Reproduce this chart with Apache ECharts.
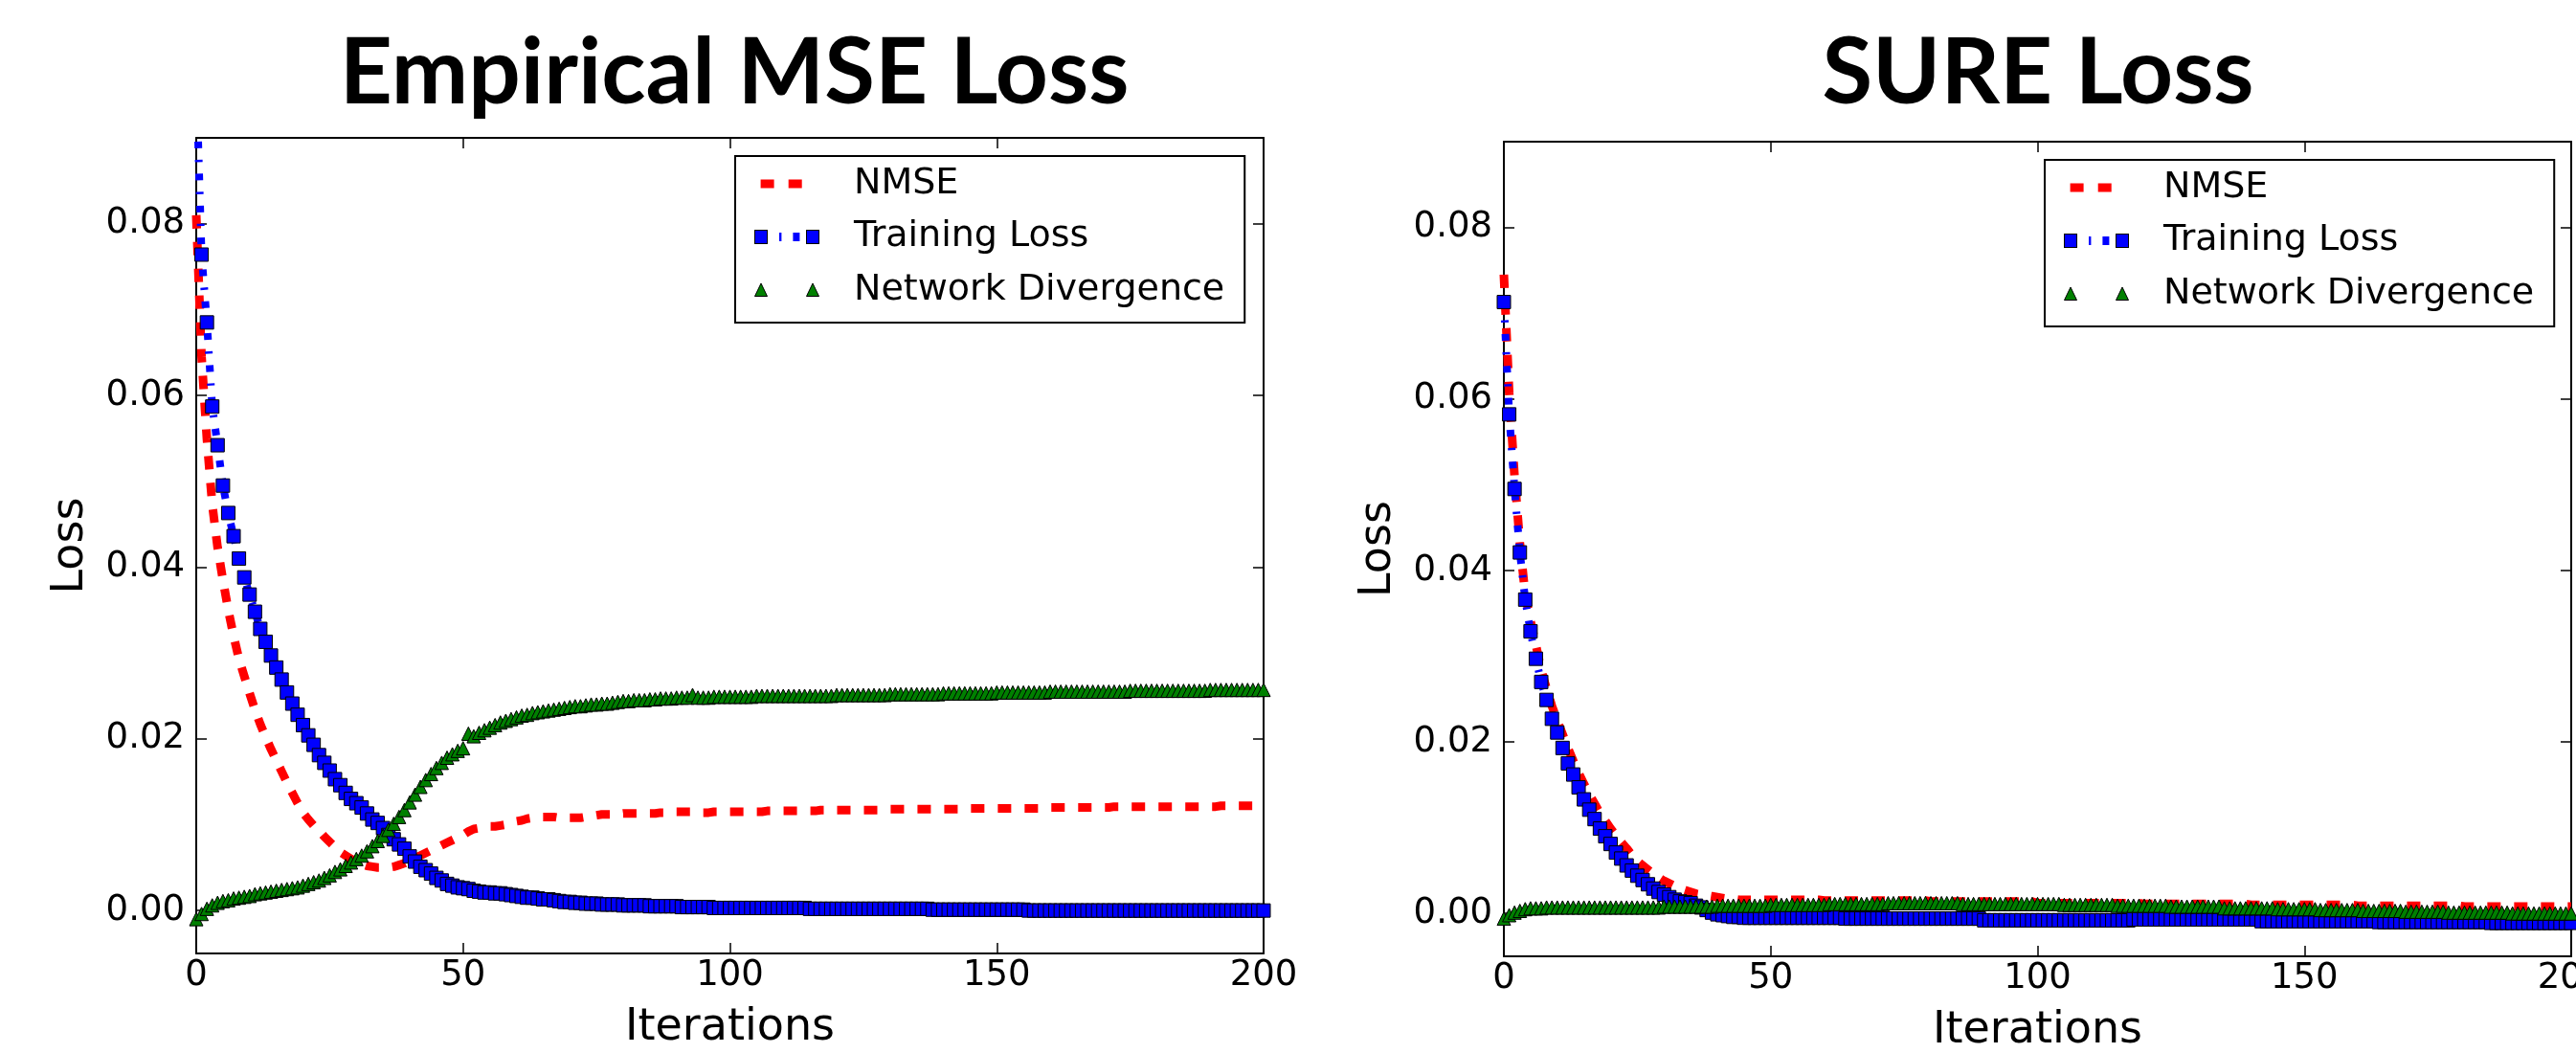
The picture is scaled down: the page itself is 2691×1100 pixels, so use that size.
<!DOCTYPE html>
<html><head><meta charset="utf-8">
<script src="https://cdn.jsdelivr.net/npm/echarts@6/dist/echarts.min.js"></script>
<style>html,body{margin:0;padding:0;background:#fff}#c{width:2691px;height:1100px}</style>
</head><body><div id="c"></div>
<script>
// ---------- data (iteration index = array position, 0..200) ----------
const titles = ['Empirical MSE Loss', 'SURE Loss'];
const seriesNames = ['NMSE', 'Training Loss', 'Network Divergence'];
const xTicks = [0, 50, 100, 150, 200];
const yTicks = [0, 0.02, 0.04, 0.06, 0.08];

// Left panel: Empirical MSE Loss
const nmseMSE = [
0.0810,0.0645,0.0549,0.0473,0.0423,0.0385,0.0350,0.0320,0.0293,0.0273,
0.0253,0.0234,0.0217,0.0202,0.0188,0.0175,0.0162,0.0149,0.0137,0.0125,
0.0114,0.0106,0.0099,0.0093,0.0086,0.0080,0.0074,0.0068,0.0064,0.0060,
0.0057,0.0054,0.0052,0.0051,0.0050,0.0050,0.0050,0.0051,0.0053,0.0055,
0.0058,0.0061,0.0064,0.0067,0.0070,0.0073,0.0076,0.0079,0.0082,0.0085,
0.0088,0.0092,0.0095,0.0096,0.0097,0.0098,0.0098,0.0099,0.0100,0.0102,
0.0104,0.0105,0.0107,0.0108,0.0109,0.0109,0.0109,0.0109,0.0108,0.0108,
0.0108,0.0108,0.0108,0.0109,0.0110,0.0111,0.0112,0.0112,0.0112,0.0112,
0.0113,0.0113,0.0113,0.0113,0.0113,0.0113,0.0113,0.0114,0.0114,0.0115,
0.0115,0.0115,0.0115,0.0115,0.0114,0.0114,0.0114,0.0115,0.0115,0.0115,
0.0115,0.0115,0.0115,0.0115,0.0115,0.0115,0.0115,0.0116,0.0116,0.0116,
0.0116,0.0116,0.0116,0.0116,0.0116,0.0116,0.0116,0.0117,0.0117,0.0117,
0.0117,0.0117,0.0117,0.0117,0.0117,0.0117,0.0117,0.0117,0.0117,0.0117,
0.0118,0.0118,0.0118,0.0118,0.0118,0.0118,0.0118,0.0118,0.0118,0.0118,
0.0118,0.0118,0.0118,0.0118,0.0118,0.0119,0.0119,0.0119,0.0119,0.0119,
0.0119,0.0119,0.0119,0.0119,0.0119,0.0119,0.0119,0.0119,0.0119,0.0119,
0.0120,0.0120,0.0120,0.0120,0.0120,0.0120,0.0120,0.0120,0.0120,0.0120,
0.0120,0.0120,0.0121,0.0121,0.0121,0.0121,0.0121,0.0121,0.0121,0.0121,
0.0121,0.0121,0.0121,0.0121,0.0121,0.0121,0.0121,0.0121,0.0121,0.0121,
0.0121,0.0121,0.0122,0.0122,0.0122,0.0122,0.0122,0.0122,0.0122,0.0122,
0.0122];
const trainMSE = [
0.0970,0.0764,0.0685,0.0587,0.0542,0.0495,0.0463,0.0436,0.0410,0.0388,
0.0368,0.0348,0.0328,0.0313,0.0297,0.0283,0.0269,0.0254,0.0241,0.0228,
0.0216,0.0204,0.0193,0.0181,0.0172,0.0163,0.0153,0.0146,0.0137,0.0130,
0.0125,0.0120,0.0113,0.0106,0.0102,0.0096,0.0088,0.0083,0.0077,0.0072,
0.0063,0.0057,0.0051,0.0047,0.0043,0.0038,0.0035,0.0031,0.0029,0.0027,
0.0026,0.0025,0.0023,0.0022,0.0021,0.0021,0.0020,0.0020,0.0019,0.0018,
0.0017,0.0016,0.0015,0.0015,0.0014,0.0013,0.0013,0.0012,0.0011,0.0010,
0.0010,0.0009,0.0009,0.0008,0.0008,0.0008,0.0007,0.0007,0.0007,0.0007,
0.0006,0.0006,0.0006,0.0006,0.0006,0.0005,0.0005,0.0005,0.0005,0.0005,
0.0005,0.0004,0.0004,0.0004,0.0004,0.0004,0.0004,0.0003,0.0003,0.0003,
0.0003,0.0003,0.0003,0.0003,0.0003,0.0003,0.0003,0.0003,0.0003,0.0003,
0.0003,0.0003,0.0003,0.0003,0.0003,0.0002,0.0002,0.0002,0.0002,0.0002,
0.0002,0.0002,0.0002,0.0002,0.0002,0.0002,0.0002,0.0002,0.0002,0.0002,
0.0002,0.0002,0.0002,0.0002,0.0002,0.0002,0.0002,0.0002,0.0001,0.0001,
0.0001,0.0001,0.0001,0.0001,0.0001,0.0001,0.0001,0.0001,0.0001,0.0001,
0.0001,0.0001,0.0001,0.0001,0.0001,0.0001,0,0,0,0,
0,0,0,0,0,0,0,0,0,0,
0,0,0,0,0,0,0,0,0,0,
0,0,0,0,0,0,0,0,0,0,
0,0,0,0,0,0,0,0,0,0,
0];
const divMSE = [
-0.0010,-0.0004,0.0002,0.0006,0.0009,0.0011,0.0012,0.0014,0.0015,0.0016,
0.0017,0.0019,0.0020,0.0021,0.0022,0.0023,0.0024,0.0025,0.0026,0.0027,
0.0029,0.0031,0.0033,0.0035,0.0038,0.0041,0.0045,0.0048,0.0052,0.0056,
0.0060,0.0064,0.0069,0.0075,0.0081,0.0087,0.0094,0.0101,0.0109,0.0117,
0.0126,0.0135,0.0144,0.0152,0.0159,0.0166,0.0172,0.0178,0.0182,0.0186,
0.0189,0.0206,0.0203,0.0207,0.0210,0.0213,0.0216,0.0219,0.0221,0.0223,
0.0225,0.0227,0.0228,0.0230,0.0231,0.0232,0.0233,0.0234,0.0235,0.0236,
0.0237,0.0238,0.0238,0.0239,0.0240,0.0240,0.0241,0.0241,0.0242,0.0243,
0.0244,0.0244,0.0245,0.0245,0.0245,0.0246,0.0246,0.0247,0.0247,0.0247,
0.0248,0.0248,0.0248,0.0251,0.0248,0.0248,0.0248,0.0249,0.0249,0.0249,
0.0249,0.0249,0.0249,0.0249,0.0249,0.0250,0.0250,0.0250,0.0250,0.0250,
0.0250,0.0250,0.0250,0.0250,0.0250,0.0250,0.0250,0.0250,0.0250,0.0250,
0.0251,0.0251,0.0251,0.0251,0.0251,0.0251,0.0251,0.0251,0.0251,0.0251,
0.0252,0.0252,0.0252,0.0252,0.0252,0.0252,0.0252,0.0252,0.0252,0.0252,
0.0253,0.0253,0.0253,0.0253,0.0253,0.0253,0.0253,0.0253,0.0253,0.0253,
0.0254,0.0254,0.0254,0.0254,0.0254,0.0254,0.0254,0.0254,0.0254,0.0254,
0.0255,0.0255,0.0255,0.0255,0.0255,0.0255,0.0255,0.0255,0.0255,0.0255,
0.0255,0.0255,0.0255,0.0255,0.0255,0.0256,0.0256,0.0256,0.0256,0.0256,
0.0256,0.0256,0.0256,0.0256,0.0256,0.0256,0.0256,0.0256,0.0256,0.0256,
0.0257,0.0257,0.0257,0.0257,0.0257,0.0257,0.0257,0.0257,0.0257,0.0257,
0.0257];

// Right panel: SURE Loss
const nmseSURE = [
0.0745,0.0607,0.0510,0.0432,0.0372,0.0341,0.0313,0.0284,0.0262,0.0242,
0.0225,0.0209,0.0193,0.0178,0.0164,0.0151,0.0139,0.0128,0.0117,0.0108,
0.0099,0.0091,0.0083,0.0076,0.0068,0.0061,0.0056,0.0051,0.0046,0.0042,
0.0038,0.0035,0.0032,0.0029,0.0027,0.0025,0.0023,0.0022,0.0021,0.0020,
0.0019,0.0018,0.0017,0.0017,0.0016,0.0016,0.0016,0.0016,0.0016,0.0016,
0.0016,0.0016,0.0016,0.0016,0.0016,0.0016,0.0016,0.0016,0.0016,0.0016,
0.0015,0.0015,0.0015,0.0015,0.0015,0.0015,0.0015,0.0015,0.0015,0.0015,
0.0015,0.0015,0.0015,0.0015,0.0015,0.0015,0.0015,0.0015,0.0015,0.0015,
0.0014,0.0014,0.0014,0.0014,0.0014,0.0014,0.0014,0.0014,0.0014,0.0014,
0.0014,0.0014,0.0014,0.0014,0.0014,0.0014,0.0014,0.0014,0.0014,0.0014,
0.0012,0.0012,0.0012,0.0012,0.0012,0.0012,0.0012,0.0012,0.0012,0.0012,
0.0012,0.0012,0.0012,0.0012,0.0012,0.0012,0.0012,0.0012,0.0012,0.0012,
0.0011,0.0011,0.0011,0.0011,0.0011,0.0011,0.0011,0.0011,0.0011,0.0011,
0.0011,0.0011,0.0011,0.0011,0.0011,0.0011,0.0011,0.0011,0.0011,0.0011,
0.0010,0.0010,0.0010,0.0010,0.0010,0.0010,0.0010,0.0010,0.0010,0.0010,
0.0010,0.0010,0.0010,0.0010,0.0010,0.0010,0.0010,0.0010,0.0010,0.0010,
0.0009,0.0009,0.0009,0.0009,0.0009,0.0009,0.0009,0.0009,0.0009,0.0009,
0.0009,0.0009,0.0009,0.0009,0.0009,0.0009,0.0009,0.0009,0.0009,0.0009,
0.0008,0.0008,0.0008,0.0008,0.0008,0.0008,0.0008,0.0008,0.0008,0.0008,
0.0008,0.0008,0.0008,0.0008,0.0008,0.0008,0.0008,0.0008,0.0008,0.0008,
0.0008];
const trainSURE = [
0.0713,0.0582,0.0495,0.0421,0.0366,0.0329,0.0297,0.0270,0.0249,0.0227,
0.0211,0.0193,0.0175,0.0162,0.0147,0.0133,0.0121,0.0110,0.0099,0.0090,
0.0081,0.0071,0.0064,0.0056,0.0050,0.0044,0.0039,0.0034,0.0029,0.0025,
0.0022,0.0019,0.0016,0.0014,0.0013,0.0012,0.0009,0.0007,0.0004,0.0001,
-0.0001,-0.0002,-0.0003,-0.0004,-0.0004,-0.0005,-0.0005,-0.0005,-0.0005,-0.0005,
-0.0005,-0.0005,-0.0005,-0.0005,-0.0005,-0.0005,-0.0005,-0.0005,-0.0005,-0.0005,
-0.0005,-0.0005,-0.0005,-0.0005,-0.0006,-0.0006,-0.0006,-0.0006,-0.0006,-0.0006,
-0.0006,-0.0006,-0.0006,-0.0006,-0.0006,-0.0006,-0.0006,-0.0006,-0.0006,-0.0006,
-0.0006,-0.0006,-0.0006,-0.0006,-0.0006,-0.0006,-0.0006,-0.0006,-0.0006,-0.0006,
-0.0008,-0.0008,-0.0008,-0.0008,-0.0008,-0.0008,-0.0008,-0.0008,-0.0008,-0.0008,
-0.0008,-0.0008,-0.0008,-0.0008,-0.0008,-0.0008,-0.0008,-0.0008,-0.0008,-0.0008,
-0.0008,-0.0008,-0.0008,-0.0008,-0.0008,-0.0008,-0.0008,-0.0008,-0.0007,-0.0007,
-0.0007,-0.0007,-0.0007,-0.0007,-0.0007,-0.0007,-0.0007,-0.0007,-0.0007,-0.0007,
-0.0007,-0.0007,-0.0007,-0.0007,-0.0007,-0.0007,-0.0007,-0.0007,-0.0007,-0.0007,
-0.0007,-0.0007,-0.0009,-0.0009,-0.0009,-0.0009,-0.0009,-0.0009,-0.0009,-0.0009,
-0.0009,-0.0009,-0.0009,-0.0009,-0.0009,-0.0009,-0.0009,-0.0009,-0.0009,-0.0009,
-0.0009,-0.0009,-0.0009,-0.0009,-0.0010,-0.0010,-0.0010,-0.0010,-0.0010,-0.0010,
-0.0010,-0.0010,-0.0010,-0.0010,-0.0010,-0.0010,-0.0010,-0.0010,-0.0010,-0.0010,
-0.0010,-0.0010,-0.0010,-0.0010,-0.0010,-0.0011,-0.0011,-0.0011,-0.0011,-0.0011,
-0.0011,-0.0011,-0.0011,-0.0011,-0.0011,-0.0011,-0.0011,-0.0011,-0.0011,-0.0011,
-0.0011];
const divSURE = [
-0.0006,-0.0002,0.0001,0.0003,0.0005,0.0006,0.0006,0.0006,0.0007,0.0007,
0.0007,0.0007,0.0007,0.0007,0.0007,0.0007,0.0007,0.0007,0.0007,0.0007,
0.0007,0.0007,0.0007,0.0007,0.0007,0.0007,0.0007,0.0007,0.0007,0.0007,
0.0008,0.0008,0.0008,0.0008,0.0008,0.0008,0.0008,0.0008,0.0008,0.0008,
0.0009,0.0009,0.0009,0.0009,0.0009,0.0009,0.0009,0.0009,0.0009,0.0009,
0.0010,0.0010,0.0010,0.0010,0.0010,0.0010,0.0010,0.0010,0.0010,0.0010,
0.0010,0.0011,0.0011,0.0011,0.0011,0.0011,0.0011,0.0011,0.0011,0.0011,
0.0011,0.0011,0.0012,0.0012,0.0012,0.0012,0.0012,0.0012,0.0012,0.0012,
0.0012,0.0012,0.0012,0.0012,0.0012,0.0012,0.0011,0.0011,0.0011,0.0011,
0.0011,0.0011,0.0011,0.0011,0.0011,0.0011,0.0011,0.0011,0.0011,0.0011,
0.0011,0.0011,0.0011,0.0011,0.0011,0.0010,0.0010,0.0010,0.0010,0.0010,
0.0010,0.0010,0.0010,0.0010,0.0010,0.0009,0.0009,0.0009,0.0009,0.0009,
0.0009,0.0009,0.0009,0.0009,0.0009,0.0008,0.0008,0.0008,0.0008,0.0008,
0.0008,0.0008,0.0008,0.0008,0.0008,0.0006,0.0006,0.0006,0.0006,0.0006,
0.0006,0.0006,0.0006,0.0006,0.0006,0.0005,0.0005,0.0005,0.0005,0.0005,
0.0005,0.0005,0.0005,0.0004,0.0004,0.0004,0.0004,0.0004,0.0004,0.0004,
0.0004,0.0003,0.0003,0.0003,0.0003,0.0003,0.0003,0.0003,0.0003,0.0002,
0.0002,0.0002,0.0002,0.0002,0.0002,0.0002,0.0002,0.0001,0.0001,0.0001,
0.0001,0.0001,0.0001,0.0001,0.0001,0.0001,0.0001,0.0001,0.0001,0,
0,0,0,0,0,0,0,0,0,0,
0];

// ---------- chart ----------
const pairs = arr => arr.map((v, i) => [i, v]);
const FONT = 'DejaVu Sans';

function svgIcon(body) {
  const svg = "<svg xmlns='http://www.w3.org/2000/svg' width='99' height='18' viewBox='0 0 99 18'>" + body + "</svg>";
  return 'image://data:image/svg+xml;charset=utf-8,' + encodeURIComponent(svg);
}
const iconNMSE = svgIcon("<rect x='6.6' y='4.5' width='14' height='9' fill='#ff0000'/><rect x='35.7' y='4.5' width='14' height='9' fill='#ff0000'/>");
const iconTrain = svgIcon("<line x1='7' y1='9' x2='61' y2='9' stroke='#0000ff' stroke-width='9' stroke-dasharray='7 12 2.4 12'/>" +
  "<rect x='0.5' y='2' width='13' height='14' fill='#0000ff' stroke='#000' stroke-width='1'/>" +
  "<rect x='54.5' y='2' width='13' height='14' fill='#0000ff' stroke='#000' stroke-width='1'/>");
const iconDiv = svgIcon("<polygon points='7,2 0.5,15.5 13.5,15.5' fill='#008000' stroke='#000' stroke-width='1'/>" +
  "<polygon points='61,2 54.5,15.5 67.5,15.5' fill='#008000' stroke='#000' stroke-width='1'/>");
const icons = [iconNMSE, iconTrain, iconDiv];

const grids = [
  {left: 205, top: 144, width: 1115, height: 852, outerBoundsMode: 'none', containLabel: false},
  {left: 1571, top: 148, width: 1115, height: 851, outerBoundsMode: 'none', containLabel: false}
];
const titleCenters = [762, 2124];
const legendPos = [{left: 768, top: 163}, {left: 2136, top: 167}];

const axisLine = {show: true, onZero: false, lineStyle: {color: '#000', width: 2}};
const axisTick = {show: true, inside: true, length: 11, lineStyle: {color: '#000', width: 1.5}};

const xAxis = [], yAxis = [], series = [], legend = [], title = [];
[[nmseMSE, trainMSE, divMSE], [nmseSURE, trainSURE, divSURE]].forEach((d, g) => {
  title.push({text: titles[g], left: titleCenters[g], top: 24, textAlign: 'center',
    textStyle: {fontFamily: 'Lato', fontWeight: 'bold', fontSize: 96, color: '#000'}});
  xAxis.push({type: 'value', gridIndex: g, min: 0, max: 200, interval: 50, position: 'bottom',
    axisLine, axisTick, splitLine: {show: false},
    axisLabel: {margin: 5, fontFamily: FONT, fontSize: 37, color: '#000'},
    name: 'Iterations', nameLocation: 'middle', nameGap: 55,
    nameTextStyle: {fontFamily: FONT, fontSize: 46, color: '#000'}});
  xAxis.push({type: 'value', gridIndex: g, min: 0, max: 200, interval: 50, position: 'top',
    axisLine, axisTick, splitLine: {show: false}, axisLabel: {show: false}});
  yAxis.push({type: 'value', gridIndex: g, min: -0.005, max: 0.09, position: 'left',
    axisLine, axisTick: Object.assign({customValues: yTicks}, axisTick), splitLine: {show: false},
    axisLabel: {customValues: yTicks, margin: 12, fontFamily: FONT, fontSize: 37, color: '#000',
      formatter: v => v.toFixed(2)},
    name: 'Loss', nameLocation: 'middle', nameGap: 108,
    nameTextStyle: {fontFamily: FONT, fontSize: 46, color: '#000'}});
  yAxis.push({type: 'value', gridIndex: g, min: -0.005, max: 0.09, position: 'right',
    axisLine, axisTick: Object.assign({customValues: yTicks}, axisTick), splitLine: {show: false},
    axisLabel: {show: false}});
  const xi = g * 2, yi = g * 2;
  series.push({name: seriesNames[0], type: 'line', xAxisIndex: xi, yAxisIndex: yi, data: pairs(d[0]),
    symbol: 'none', z: 2, lineStyle: {color: '#ff0000', width: 9, type: [14, 14]}, itemStyle: {color: '#ff0000'}});
  series.push({name: seriesNames[1], type: 'line', xAxisIndex: xi, yAxisIndex: yi, data: pairs(d[1]),
    symbol: 'rect', symbolSize: 14, showAllSymbol: true, z: 2,
    lineStyle: {color: '#0000ff', width: 8, type: [7, 12, 2.4, 12]},
    itemStyle: {color: '#0000ff', borderColor: '#000', borderWidth: 1}});
  series.push({name: seriesNames[2], type: 'scatter', xAxisIndex: xi, yAxisIndex: yi, data: pairs(d[2]),
    symbol: 'triangle', symbolSize: 14, z: 3,
    itemStyle: {color: '#008000', borderColor: '#000', borderWidth: 1, opacity: 1}});
  legend.push({left: legendPos[g].left, top: legendPos[g].top, orient: 'vertical',
    padding: [10, 21, 15, 20], itemGap: 17.5, itemWidth: 99, itemHeight: 18,
    borderColor: '#000', borderWidth: 2, backgroundColor: '#fff', selectedMode: false,
    textStyle: {fontFamily: FONT, fontSize: 38, color: '#000', lineHeight: 38},
    data: seriesNames.map((n, k) => ({name: n, icon: icons[k]}))});
});

const chart = echarts.init(document.getElementById('c'), null, {renderer: 'canvas'});
chart.setOption({animation: false, backgroundColor: '#fff', title, grid: grids, xAxis, yAxis, legend, series});
</script>
</body></html>
